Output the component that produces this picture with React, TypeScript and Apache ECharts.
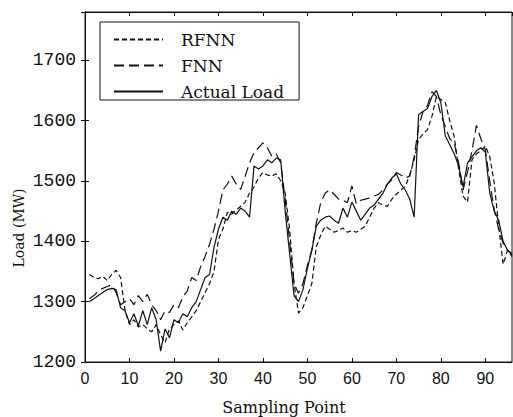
import React, { useEffect, useRef } from "react";
import * as echarts from "echarts";

const sampleIndex: number[] = Array.from({ length: 96 }, (_, k) => k + 1);

const actualLoad: number[] = [
  1300, 1305, 1310, 1315, 1320, 1322, 1320, 1290, 1285, 1265,
  1280, 1260, 1285, 1262, 1290, 1270, 1218, 1255, 1240, 1270,
  1265, 1280, 1275, 1290, 1300, 1320, 1340, 1345, 1390, 1420,
  1440, 1435, 1450, 1445, 1455, 1450, 1440, 1525, 1520, 1525,
  1535, 1530, 1538, 1535, 1450, 1380, 1310, 1300, 1320, 1355,
  1385, 1425, 1435, 1440, 1442, 1435, 1430, 1455, 1440, 1465,
  1450, 1435, 1445, 1455, 1460, 1470, 1480, 1495, 1505, 1512,
  1495, 1485, 1470, 1440, 1610, 1615, 1620, 1640, 1650, 1630,
  1575, 1560, 1545, 1525, 1490, 1530, 1540, 1550, 1555, 1548,
  1480, 1450, 1435, 1400, 1385, 1378,
];

const fnnForecast: number[] = [
  1305, 1310, 1318, 1322, 1325, 1328, 1315, 1295, 1300, 1305,
  1295, 1310, 1300, 1312, 1295, 1285, 1270, 1285, 1282, 1295,
  1290, 1308, 1318, 1340, 1335, 1358, 1375, 1395, 1420, 1450,
  1485, 1495, 1508, 1495, 1486, 1508, 1530, 1547, 1555, 1563,
  1555, 1541, 1545, 1530, 1470, 1400, 1330, 1314, 1330, 1360,
  1386, 1430, 1464, 1480, 1485, 1478, 1470, 1468, 1464, 1492,
  1462, 1468, 1470, 1472, 1475, 1478, 1485, 1495, 1502, 1514,
  1510, 1505, 1508, 1540, 1590, 1615, 1625, 1648, 1640, 1610,
  1590, 1570, 1563, 1530, 1485, 1515, 1550, 1592, 1570, 1552,
  1500, 1452, 1420, 1397, 1385, 1380,
];

const rfnnForecast: number[] = [
  1345, 1340, 1338, 1342, 1335, 1345, 1352, 1340, 1285, 1262,
  1270, 1258, 1262, 1255, 1250, 1262, 1245, 1232, 1255, 1262,
  1268, 1253, 1265, 1275, 1285, 1300, 1315, 1330, 1350, 1403,
  1420, 1448, 1445, 1452, 1458, 1465, 1480, 1490, 1505, 1514,
  1510, 1508, 1512, 1500, 1480, 1420, 1330, 1281, 1290, 1310,
  1330, 1391, 1410, 1425, 1420, 1415, 1418, 1422, 1415, 1418,
  1415, 1420, 1425, 1440, 1455, 1464, 1460, 1458, 1470, 1478,
  1485, 1491, 1510, 1535, 1569, 1578, 1585, 1607, 1640, 1635,
  1630, 1600, 1574, 1520, 1475, 1465, 1535, 1545, 1550, 1558,
  1540, 1497, 1425, 1362, 1385, 1375,
];

const seriesNames: string[] = ["RFNN", "FNN", "Actual Load"];

const toPairs = (vals: number[]) => vals.map((v, k) => [sampleIndex[k], v]);

export default function App() {
  const ref = useRef<HTMLDivElement>(null);
  useEffect(() => {
    if (!ref.current) return;
    const chart = echarts.init(ref.current, null, { renderer: "svg" });
    const ink = "#111";
    const tickCommon = { inside: true, length: 4, lineStyle: { color: ink } };
    chart.setOption({
      animation: false,
      backgroundColor: "#fff",
      grid: {
        left: 85,
        right: 1,
        top: 12,
        bottom: 55,
        show: true,
        borderColor: ink,
        borderWidth: 1,
        backgroundColor: "transparent",
      },
      legend: {
        orient: "vertical",
        left: 100,
        top: 22,
        padding: [9, 15, 0, 13],
        itemWidth: 49,
        itemHeight: 14,
        itemGap: 9,
        borderColor: ink,
        borderWidth: 1,
        data: seriesNames,
        itemStyle: { opacity: 0 },
        textStyle: {
          fontFamily: "DejaVu Serif",
          fontSize: 17,
          color: ink,
          padding: [0, 0, 0, 13],
        },
      },
      xAxis: [
        {
          type: "value",
          min: 0,
          max: 96,
          interval: 10,
          position: "bottom",
          splitLine: { show: false },
          axisLine: { lineStyle: { color: ink } },
          axisTick: tickCommon,
          axisLabel: {
            color: ink,
            fontFamily: "Liberation Sans",
            fontSize: 16,
            margin: 8,
            showMaxLabel: false,
          },
        },
        {
          type: "value",
          min: 0,
          max: 96,
          interval: 10,
          position: "top",
          splitLine: { show: false },
          axisLine: { lineStyle: { color: ink } },
          axisTick: tickCommon,
          axisLabel: { show: false },
        },
      ],
      yAxis: [
        {
          type: "value",
          min: 1200,
          max: 1780,
          interval: 100,
          position: "left",
          splitLine: { show: false },
          axisLine: { show: true, lineStyle: { color: ink } },
          axisTick: { show: true, ...tickCommon },
          axisLabel: {
            color: ink,
            fontFamily: "Liberation Mono",
            fontSize: 18,
            margin: 9,
            showMaxLabel: false,
            formatter: (v: number) => String(v),
          },
        },
        {
          type: "value",
          min: 1200,
          max: 1780,
          interval: 100,
          position: "right",
          splitLine: { show: false },
          axisLine: { show: true, lineStyle: { color: ink } },
          axisTick: { show: true, ...tickCommon },
          axisLabel: { show: false },
        },
      ],
      graphic: [
        {
          type: "text",
          x: 284,
          y: 407,
          style: {
            text: "Sampling Point",
            fill: ink,
            fontFamily: "DejaVu Serif",
            fontSize: 16,
            align: "center",
            verticalAlign: "middle",
          },
        },
        {
          type: "text",
          x: 19,
          y: 228,
          rotation: Math.PI / 2,
          style: {
            text: "Load (MW)",
            fill: ink,
            fontFamily: "DejaVu Serif",
            fontSize: 14,
            align: "center",
            verticalAlign: "middle",
          },
        },
      ],
      series: [
        {
          name: seriesNames[0],
          type: "line",
          data: toPairs(rfnnForecast),
          showSymbol: false,
          symbol: "none",
          lineStyle: { color: ink, width: 1.2, type: [5, 3] },
          itemStyle: { color: ink },
        },
        {
          name: seriesNames[1],
          type: "line",
          data: toPairs(fnnForecast),
          showSymbol: false,
          symbol: "none",
          lineStyle: { color: ink, width: 1.2, type: [10, 5] },
          itemStyle: { color: ink },
        },
        {
          name: seriesNames[2],
          type: "line",
          data: toPairs(actualLoad),
          showSymbol: false,
          symbol: "none",
          lineStyle: { color: ink, width: 1.2, type: "solid" },
          itemStyle: { color: ink },
        },
      ],
    });
    return () => chart.dispose();
  }, []);
  return (
    <div
      ref={ref}
      style={{ position: "fixed", left: 0, top: 0, width: 513, height: 417 }}
    />
  );
}
